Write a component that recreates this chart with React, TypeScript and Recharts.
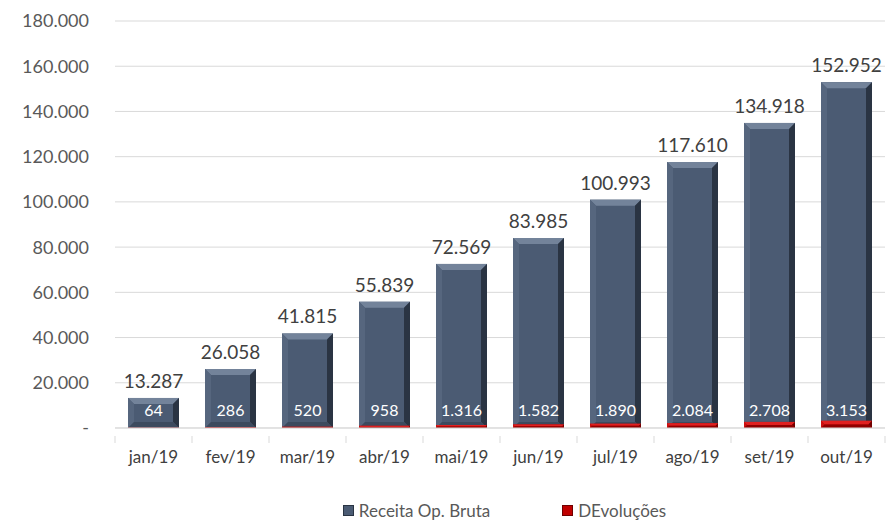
import React from 'react'
import { BarChart, Bar, XAxis, YAxis, CartesianGrid, Legend, LabelList } from 'recharts'

const months = ['jan/19', 'fev/19', 'mar/19', 'abr/19', 'mai/19', 'jun/19', 'jul/19', 'ago/19', 'set/19', 'out/19']
const receita = [13287, 26058, 41815, 55839, 72569, 83985, 100993, 117610, 134918, 152952]
const devolucoes = [64, 286, 520, 958, 1316, 1582, 1890, 2084, 2708, 3153]
const yTicks = [0, 20000, 40000, 60000, 80000, 100000, 120000, 140000, 160000, 180000]

const data = months.map((m, i) => ({ month: m, receita: receita[i], devolucoes: devolucoes[i] }))

const FONT = 'Lato, "Open Sans", sans-serif'

const fmt = (v: number) => (v === 0 ? '-' : v.toLocaleString('de-DE'))

// excel-ish bevel bar
const bevel = (colors: { face: string; top: string; left: string; right: string; bottom: string }) => (props: any) => {
  const { x, y, width, height } = props
  if (!height || height <= 0) return null
  const b = Math.min(6, height / 2, width / 2)
  return (
    <g>
      <rect x={x} y={y} width={width} height={height} fill={colors.face} />
      <polygon points={`${x},${y} ${x + width},${y} ${x + width - b},${y + b} ${x + b},${y + b}`} fill={colors.top} />
      <polygon points={`${x},${y} ${x + b},${y + b} ${x + b},${y + height - b} ${x},${y + height}`} fill={colors.left} />
      <polygon points={`${x + width},${y} ${x + width - b},${y + b} ${x + width - b},${y + height - b} ${x + width},${y + height}`} fill={colors.right} />
      <polygon points={`${x},${y + height} ${x + b},${y + height - b} ${x + width - b},${y + height - b} ${x + width},${y + height}`} fill={colors.bottom} />
    </g>
  )
}

const BlueBar = bevel({ face: '#4b5b73', top: '#73839a', left: '#56667e', right: '#2a3443', bottom: '#3c4a5e' })
const RedBar = bevel({ face: '#c00000', top: '#e02020', left: '#cc1010', right: '#700000', bottom: '#900000' })

const XTick = (props: any) => {
  const { x, y, payload, index } = props
  const half = payload?.offset ?? 38.5
  return (
    <g>
      <line x1={x - half} y1={y} x2={x - half} y2={y + 7} stroke="#d9d9d9" />
      {index === months.length - 1 && <line x1={x + half} y1={y} x2={x + half} y2={y + 7} stroke="#d9d9d9" />}
      <text x={x} y={y + 27} textAnchor="middle" fontSize={17} fill="#404040" fontFamily={FONT}>
        {payload.value}
      </text>
    </g>
  )
}

const InnerLabel = (props: any) => {
  const { x, width, value, viewBox } = props
  const bottom = (viewBox?.y ?? 0) + (viewBox?.height ?? 0)
  return (
    <text x={x + width / 2} y={bottom - 12} textAnchor="middle" fontSize={16} fill="#ffffff" fontFamily={FONT}>
      {fmt(value)}
    </text>
  )
}

const LegendContent = () => (
  <div style={{ display: 'flex', justifyContent: 'center', gap: 72, fontFamily: FONT, fontSize: 17, color: '#595959', paddingLeft: 124, paddingTop: 12 }}>
    <span style={{ display: 'flex', alignItems: 'center' }}>
      <span style={{ width: 9, height: 9, background: '#4b5b73', border: '1px solid #2a3443', marginRight: 5 }} />
      Receita Op. Bruta
    </span>
    <span style={{ display: 'flex', alignItems: 'center' }}>
      <span style={{ width: 9, height: 9, background: '#c00000', border: '1px solid #700000', marginRight: 5 }} />
      DEvoluções
    </span>
  </div>
)

export default function App() {
  return (
    <div style={{ position: 'absolute', left: 0, top: 0, background: '#fff' }}>
      <BarChart
        width={888}
        height={522}
        data={data}
        margin={{ top: 21, right: 3, bottom: 0, left: 0 }}
        barCategoryGap="17%"
        barGap={-51}
        barSize={51}
      >
        <CartesianGrid vertical={false} stroke="#d9d9d9" />
        <XAxis
          dataKey="month"
          axisLine={{ stroke: '#d9d9d9' }}
          tickLine={false}
          height={60}
          interval={0}
          tick={<XTick />}
        />
        <YAxis
          width={115}
          domain={[0, 180000]}
          ticks={yTicks}
          tickFormatter={fmt}
          axisLine={false}
          tickLine={false}
          tickSize={0}
          tickMargin={26}
          tick={{ fontSize: 18, fill: '#595959', fontFamily: FONT }}
        />
        <Legend verticalAlign="bottom" height={34} content={<LegendContent />} />
        <Bar dataKey="receita" shape={BlueBar} isAnimationActive={false}>
          <LabelList dataKey="receita" position="top" offset={10} formatter={(v: any) => fmt(Number(v))} style={{ fontSize: 19, fill: '#404040', fontFamily: FONT }} />
        </Bar>
        <Bar dataKey="devolucoes" shape={RedBar} isAnimationActive={false}>
          <LabelList dataKey="devolucoes" content={<InnerLabel />} />
        </Bar>
      </BarChart>
    </div>
  )
}
